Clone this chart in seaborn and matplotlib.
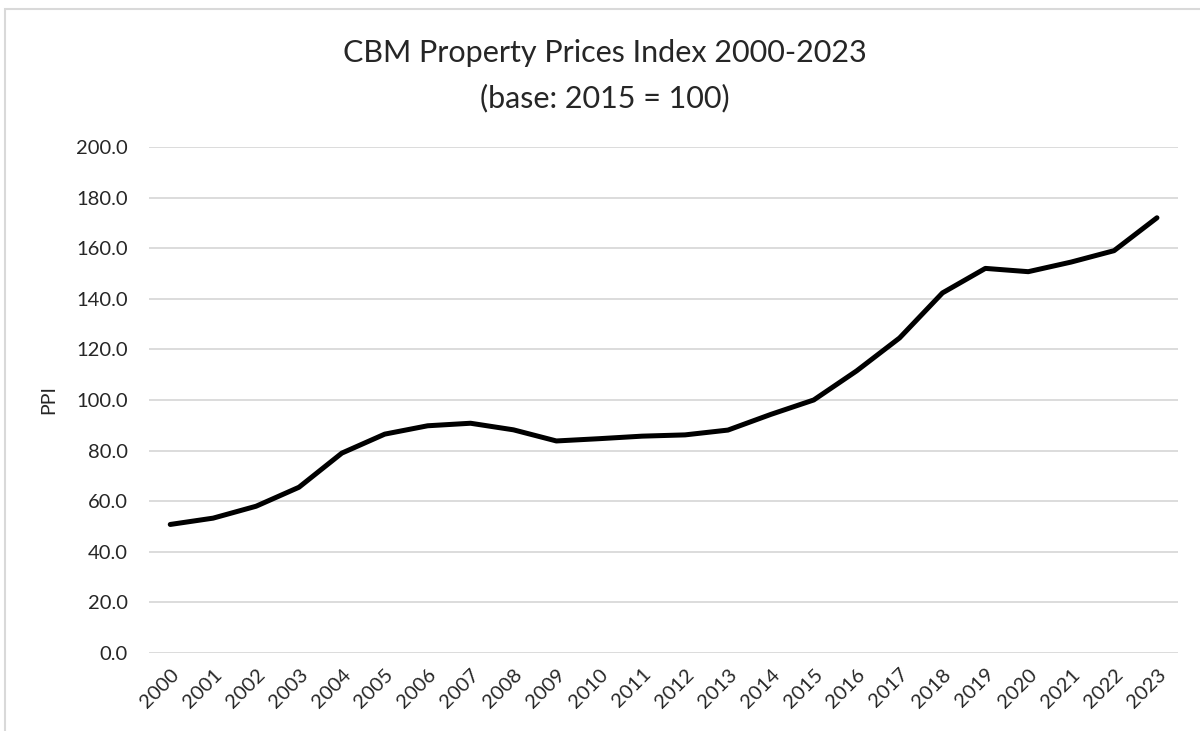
import matplotlib
matplotlib.use("Agg")
import matplotlib.pyplot as plt
import seaborn as sns
import pandas as pd
from matplotlib.patches import Rectangle

# data
years = [str(y) for y in range(2000, 2024)]
ppi = [50.8, 53.3, 58.0, 65.5, 79.0, 86.5, 89.8, 90.8, 88.2, 83.8, 84.7, 85.7,
       86.2, 88.1, 94.3, 100.0, 111.5, 124.5, 142.3, 152.0, 150.7, 154.5, 159.0, 172.0]
yticks = [0, 20, 40, 60, 80, 100, 120, 140, 160, 180, 200]

sns.set_style("white")
plt.rcParams['font.family'] = ['Lato', 'DejaVu Sans']

df = pd.DataFrame({"pos": range(len(years)), "year": years, "ppi": ppi})

fig = plt.figure(figsize=(12, 7.31), dpi=100)
ax = fig.add_axes([0.124, 0.1067, 0.858, 0.6923])

sns.lineplot(data=df, x="pos", y="ppi", color="black", linewidth=3.6, ax=ax)

ax.set_xlim(-0.5, len(years) - 0.5)
ax.set_ylim(0, 200)
ax.set_yticks(yticks)
ax.set_yticklabels([f"{v:.1f}" for v in yticks], fontsize=14.5, color="#262626")
ax.set_xticks(range(len(years)))
ax.set_xticklabels(years, rotation=45, ha="right", rotation_mode="anchor",
                   fontsize=14.5, color="#262626")
ax.tick_params(axis="y", length=0, pad=15)
ax.tick_params(axis="x", length=0, pad=9)
ax.grid(axis="y", color="#d9d9d9", linewidth=1.3)
ax.set_axisbelow(True)
for s in ax.spines.values():
    s.set_visible(False)
ax.set_xlabel("")
ax.set_ylabel("PPI", fontsize=14, color="#262626", labelpad=14)

fig.text(0.504, 0.928, "CBM Property Prices Index 2000-2023", ha="center", va="center",
         fontsize=22, color="#262626")
fig.text(0.504, 0.866, "(base: 2015 = 100)", ha="center", va="center",
         fontsize=22, color="#262626")

# chart frame (partly cropped in the reference)
fig.patches.append(Rectangle((5 / 1200, -0.1), 1.2, 1.1 - 9 / 731, transform=fig.transFigure,
                             fill=False, edgecolor="#d9d9d9", linewidth=1.5))

fig.savefig("out.png", dpi=100)
